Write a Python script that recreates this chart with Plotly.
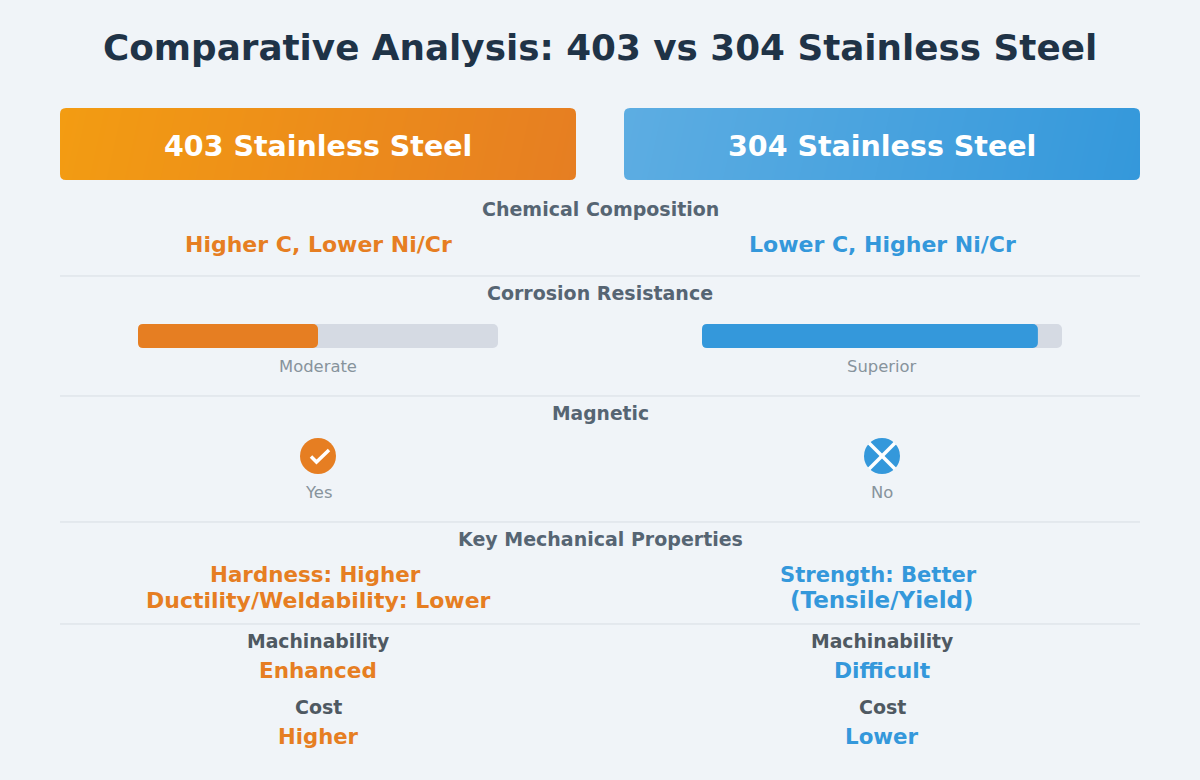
import plotly.graph_objects as go

W, H = 1200, 780
FONT = "DejaVu Sans"
BG = "#f0f4f8"
ORANGE = "#e67e22"
BLUE = "#3498db"
TRACK = "#d5dae3"
LABEL = "#566573"
SUBLABEL = "#4f5962"
MUTED = "#87939c"
TITLE = "#1f3347"
DIVIDER = "#d7dde3"

title = "Comparative Analysis: 403 vs 304 Stainless Steel"
materials = ["403 Stainless Steel", "304 Stainless Steel"]
composition = ["Higher C, Lower Ni/Cr", "Lower C, Higher Ni/Cr"]
corrosion_scores = [50, 93.3]
corrosion_labels = ["Moderate", "Superior"]
magnetic_labels = ["Yes", "No"]
mechanical = [["Hardness: Higher", "Ductility/Weldability: Lower"], ["Strength: Better", "(Tensile/Yield)"]]
machinability = ["Enhanced", "Difficult"]
cost = ["Higher", "Lower"]
section_labels = ["Chemical Composition", "Corrosion Resistance", "Magnetic", "Key Mechanical Properties"]

LEFT, RIGHT = 318, 882
fig = go.Figure()


def dom_x(a, b):
    return [a / W, b / W]


def dom_y(a, b):
    return [1 - b / H, 1 - a / H]


def text(x, y, s, size, color, bold=False):
    fig.add_annotation(
        xref="x", yref="y", x=x, y=y, text=f"<b>{s}</b>" if bold else s, showarrow=False,
        xanchor="center", yanchor="middle", font=dict(family=FONT, size=size, color=color),
    )


fig.add_trace(go.Scatter(x=[0, W], y=[0, H], mode="markers", marker=dict(opacity=0), hoverinfo="skip", showlegend=False))

axis_off = dict(visible=False, fixedrange=True)
layout = dict(
    xaxis=dict(range=[0, W], domain=[0, 1], **axis_off),
    yaxis=dict(range=[H, 0], domain=[0, 1], **axis_off),
)

# header gradients
headers = [
    (60, 576, 108, 180, "#f39c12", ORANGE, 2),
    (624, 1140, 108, 180, "#5dade2", BLUE, 3),
]
for x0, x1, y0, y1, c0, c1, n in headers:
    fig.add_trace(go.Heatmap(
        z=[[0, 0.97], [0.03, 1]], zsmooth="best", zmin=0, zmax=1, showscale=False, hoverinfo="skip",
        colorscale=[[0, c0], [1, c1]], xaxis=f"x{n}", yaxis=f"y{n}",
    ))
    layout[f"xaxis{n}"] = dict(domain=dom_x(x0, x1), anchor=f"y{n}", range=[0, 1], **axis_off)
    layout[f"yaxis{n}"] = dict(domain=dom_y(y0, y1), anchor=f"x{n}", range=[1, 0], **axis_off)


# corrosion bars: the track and the fill sit on separate axes so both get rounded ends
def bar_axes(n, x0, x1):
    layout[f"xaxis{n}"] = dict(domain=dom_x(x0, x1), anchor=f"y{n}", range=[0, 100], **axis_off)
    layout[f"yaxis{n}"] = dict(domain=dom_y(324, 348), anchor=f"x{n}", range=[-0.5, 0.5], **axis_off)


bars = [(138, 498, 4, ORANGE), (702, 1062, 6, BLUE)]
for (x0, x1, n, color), score in zip(bars, corrosion_scores):
    fig.add_trace(go.Bar(x=[100], y=[0], orientation="h", width=1, marker=dict(color=TRACK, line_width=0),
                         xaxis=f"x{n}", yaxis=f"y{n}", hoverinfo="skip", showlegend=False))
    fig.add_trace(go.Bar(x=[score], y=[0], orientation="h", width=1, marker=dict(color=color, line_width=0),
                         xaxis=f"x{n + 1}", yaxis=f"y{n + 1}", hoverinfo="skip", showlegend=False))
    bar_axes(n, x0, x1)
    bar_axes(n + 1, x0, x1)

shapes = []
for y in (276, 396, 522, 624):
    shapes.append(dict(type="line", xref="x", yref="y", x0=60, x1=1140, y0=y, y1=y,
                       line=dict(color=DIVIDER, width=1), layer="below"))


def corner(x, y, sx, sy, r=6):
    return f"M {x} {y} L {x + sx * r} {y} Q {x} {y} {x} {y + sy * r} Z"


for x0, x1, y0, y1, *_ in headers:
    for x, y, sx, sy in ((x0, y0, 1, 1), (x1, y0, -1, 1), (x0, y1, 1, -1), (x1, y1, -1, -1)):
        shapes.append(dict(type="path", xref="x", yref="y", path=corner(x, y, sx, sy), fillcolor=BG, line_width=0, layer="above"))
# rounded left ends of the corrosion bars
for x0, *_ in bars:
    for y, sy in ((324, 1), (348, -1)):
        shapes.append(dict(type="path", xref="x", yref="y", path=corner(x0, y, 1, sy, 5), fillcolor=BG, line_width=0, layer="above"))

# magnetic icons
for cx, color in ((LEFT, ORANGE), (RIGHT, BLUE)):
    shapes.append(dict(type="circle", xref="x", yref="y", x0=cx - 18, x1=cx + 18, y0=438, y1=474, fillcolor=color, line_width=0))
shapes.append(dict(type="path", xref="x", yref="y", path=f"M {LEFT - 7} 456.5 L {LEFT - 1.5} 462 L {LEFT + 11} 450",
                   line=dict(color="white", width=3.5), layer="above"))
for a, b, c, d in ((-13, -13, 13, 13), (-13, 13, 13, -13)):
    shapes.append(dict(type="line", xref="x", yref="y", x0=RIGHT + a, y0=456 + b, x1=RIGHT + c, y1=456 + d,
                       line=dict(color="white", width=3.5), layer="above"))

fig.update_layout(
    width=W, height=H, margin=dict(l=0, r=0, t=0, b=0), paper_bgcolor=BG, plot_bgcolor="rgba(0,0,0,0)",
    showlegend=False, barmode="overlay", barcornerradius=5, shapes=shapes, **layout,
)

# text
text(600, 47, title, 35.75, TITLE, True)
text(LEFT, 146, materials[0], 28.5, "white", True)
text(RIGHT, 146, materials[1], 28.5, "white", True)
for y, s, size in zip((209, 293, 413, 539), section_labels, (19, 19, 18.7, 19)):
    text(600, y, s, size, LABEL, True)

mech_sizes = [[21.4, 22], [21.1, 23]]
mech_shift = [-3, -3.5]
mach_sizes = [21.5, 21.8]
cost_sizes = [21.2, 21.4]
for i, (cx, color) in enumerate(((LEFT, ORANGE), (RIGHT, BLUE))):
    text(cx, 244, composition[i], 22, color, True)
    text(cx, 366, corrosion_labels[i], 16.4, MUTED)
    text(cx, 492, magnetic_labels[i], 16.4, MUTED)
    text(cx + mech_shift[i], 574, mechanical[i][0], mech_sizes[i][0], color, True)
    text(cx, 600, mechanical[i][1], mech_sizes[i][1], color, True)
    text(cx, 641, "Machinability", 18.8, SUBLABEL, True)
    text(cx, 670, machinability[i], mach_sizes[i], color, True)
    text(cx, 707, "Cost", 19, SUBLABEL, True)
    text(cx, 736, cost[i], cost_sizes[i], color, True)

fig.write_html("out.html", config=dict(displayModeBar=False),
               post_script="document.body.style.margin='0';document.body.style.overflow='hidden';")
